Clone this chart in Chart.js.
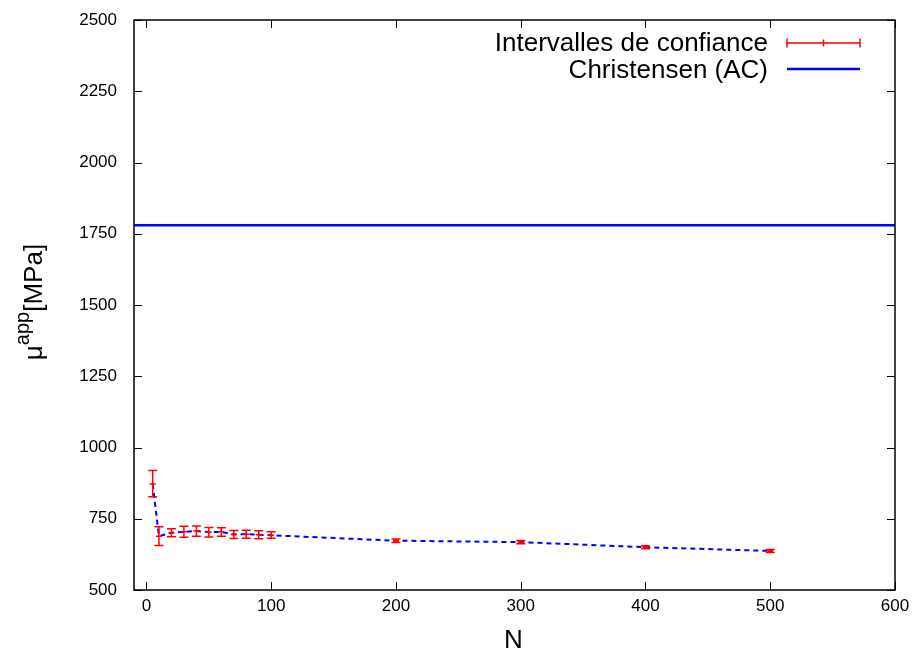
<!DOCTYPE html>
<html>
<head>
<meta charset="utf-8">
<script src="https://cdn.jsdelivr.net/npm/chart.js@4"></script>
<style>
  html, body { margin: 0; padding: 0; background: #fff; }
  #wrap { width: 915px; height: 655px; }
</style>
</head>
<body>
<div id="wrap"><canvas id="chart" width="915" height="655"></canvas></div>
<script>
// Données
const nValues   = [5, 10, 20, 30, 40, 50, 60, 70, 80, 90, 100, 200, 300, 400, 500];
const meanValues = [872, 689, 701, 704, 707, 703, 704, 695, 696, 694, 692, 673, 668, 650, 637];
const lowValues  = [827, 656, 687, 685, 689, 686, 689, 681, 682, 680, 682, 667, 662, 645, 632];
const highValues = [919, 722, 715, 724, 725, 719, 718, 709, 710, 708, 704, 679, 674, 655, 642];
const christensenValue = 1780;
const xTicks = [0, 100, 200, 300, 400, 500, 600];
const yTicks = [500, 750, 1000, 1250, 1500, 1750, 2000, 2250, 2500];

const FONT = '"Liberation Sans", Arial, Helvetica, sans-serif';

// Cadre, graduations intérieures, barres d'erreur, légende et titres
const gnuplotStyle = {
    id: 'gnuplotStyle',
    afterDatasetsDraw(chart) {
        const ctx = chart.ctx;
        const area = chart.chartArea;
        const xs = chart.scales.x;
        const ys = chart.scales.y;

        // Barres d'erreur
        ctx.save();
        ctx.strokeStyle = '#ff0000';
        ctx.lineWidth = 1.5;
        nValues.forEach((n, i) => {
            const px = xs.getPixelForValue(n);
            const top = ys.getPixelForValue(highValues[i]);
            const bot = ys.getPixelForValue(lowValues[i]);
            const mid = ys.getPixelForValue(meanValues[i]);
            ctx.beginPath();
            ctx.moveTo(px, top); ctx.lineTo(px, bot);
            ctx.moveTo(px - 4.5, top); ctx.lineTo(px + 4.5, top);
            ctx.moveTo(px - 4.5, bot); ctx.lineTo(px + 4.5, bot);
            ctx.moveTo(px - 3, mid); ctx.lineTo(px + 3, mid);
            ctx.stroke();
        });
        ctx.restore();

        // Cadre
        ctx.save();
        ctx.strokeStyle = '#000';
        ctx.lineWidth = 1.5;
        ctx.strokeRect(area.left, area.top, area.right - area.left, area.bottom - area.top);

        // Graduations
        ctx.lineWidth = 1;
        ctx.beginPath();
        xTicks.forEach(v => {
            const px = Math.round(xs.getPixelForValue(v)) + 0.5;
            ctx.moveTo(px, area.bottom); ctx.lineTo(px, area.bottom - 8);
            ctx.moveTo(px, area.top); ctx.lineTo(px, area.top + 8);
        });
        yTicks.forEach(v => {
            const py = Math.round(ys.getPixelForValue(v)) + 0.5;
            ctx.moveTo(area.left, py); ctx.lineTo(area.left + 8, py);
            ctx.moveTo(area.right, py); ctx.lineTo(area.right - 8, py);
        });
        ctx.stroke();

        // Libellés des graduations
        ctx.fillStyle = '#000';
        ctx.font = '17px ' + FONT;
        ctx.textAlign = 'center';
        ctx.textBaseline = 'middle';
        xTicks.forEach(v => {
            ctx.fillText(String(v), xs.getPixelForValue(v), area.bottom + 16);
        });
        ctx.textAlign = 'right';
        yTicks.forEach(v => {
            ctx.fillText(String(v), area.left - 17, ys.getPixelForValue(v));
        });

        // Titre de l'axe x
        ctx.font = '26px ' + FONT;
        ctx.textAlign = 'center';
        ctx.fillText('N', (area.left + area.right) / 2 - 1, area.bottom + 51);

        // Titre de l'axe y : μ^app[MPa]
        ctx.save();
        ctx.translate(42, 302);
        ctx.rotate(-Math.PI / 2);
        ctx.textBaseline = 'alphabetic';
        ctx.textAlign = 'left';
        ctx.font = '26px ' + FONT;
        const mu = 'μ';
        const rest = '[MPa]';
        const wMu = ctx.measureText(mu).width;
        const wRest = ctx.measureText(rest).width;
        ctx.font = '20px ' + FONT;
        const sup = 'app';
        const wSup = ctx.measureText(sup).width;
        const x0 = -(wMu + wSup + wRest) / 2;
        ctx.font = '26px ' + FONT;
        ctx.fillText(mu, x0, 0);
        ctx.fillText(rest, x0 + wMu + wSup, 0);
        ctx.font = '20px ' + FONT;
        ctx.fillText(sup, x0 + wMu, -13);
        ctx.restore();

        // Légende
        ctx.font = '26px ' + FONT;
        ctx.textAlign = 'right';
        ctx.textBaseline = 'middle';
        ctx.fillStyle = '#000';
        ctx.fillText('Intervalles de confiance', 768, 44);
        ctx.fillText('Christensen (AC)', 768, 71);

        ctx.strokeStyle = '#ff0000';
        ctx.lineWidth = 1.5;
        ctx.beginPath();
        ctx.moveTo(787, 43); ctx.lineTo(860, 43);
        ctx.moveTo(787, 38.5); ctx.lineTo(787, 47.5);
        ctx.moveTo(860, 38.5); ctx.lineTo(860, 47.5);
        ctx.moveTo(823.5, 39.5); ctx.lineTo(823.5, 46.5);
        ctx.stroke();

        ctx.strokeStyle = '#0000ff';
        ctx.lineWidth = 2.5;
        ctx.beginPath();
        ctx.moveTo(787, 69); ctx.lineTo(860, 69);
        ctx.stroke();
        ctx.restore();
    }
};

const meanPoints = nValues.map((n, i) => ({ x: n, y: meanValues[i] }));

new Chart(document.getElementById('chart'), {
    type: 'scatter',
    data: {
        datasets: [
            {
                label: 'Christensen (AC)',
                data: [{ x: -10, y: christensenValue }, { x: 600, y: christensenValue }],
                showLine: true,
                borderColor: '#0000ff',
                borderWidth: 2.5,
                pointRadius: 0
            },
            {
                label: 'Moyenne',
                data: meanPoints,
                showLine: true,
                borderColor: '#0000ff',
                borderWidth: 2,
                borderDash: [5, 4],
                pointRadius: 0
            }
        ]
    },
    options: {
        responsive: false,
        animation: false,
        layout: { padding: { top: 20, right: 20, left: 0, bottom: 0 } },
        plugins: {
            legend: { display: false },
            tooltip: { enabled: false }
        },
        scales: {
            x: {
                type: 'linear',
                min: -10,
                max: 600,
                grid: { display: false },
                border: { display: false },
                ticks: { display: false },
                afterFit(scale) { scale.height = 65; }
            },
            y: {
                type: 'linear',
                min: 500,
                max: 2500,
                grid: { display: false },
                border: { display: false },
                ticks: { display: false },
                afterFit(scale) { scale.width = 134; }
            }
        }
    },
    plugins: [gnuplotStyle]
});
</script>
</body>
</html>
